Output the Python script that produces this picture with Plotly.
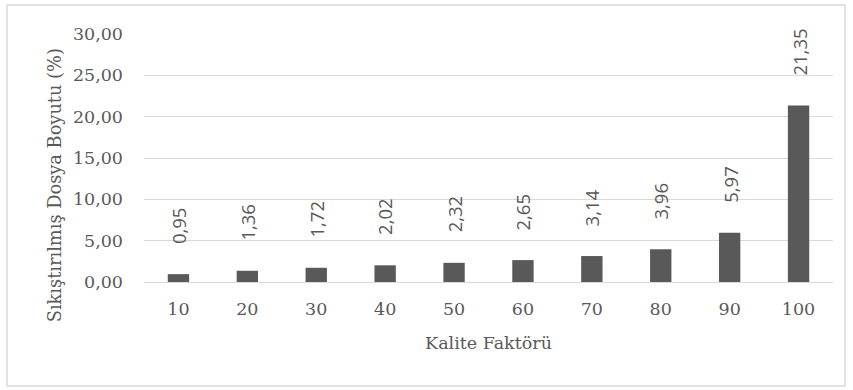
import plotly.graph_objects as go

# Kalite faktörüne göre sıkıştırılmış dosya boyutu (%)
kalite = ["10", "20", "30", "40", "50", "60", "70", "80", "90", "100"]
boyut = [0.95, 1.36, 1.72, 2.02, 2.32, 2.65, 3.14, 3.96, 5.97, 21.35]
y_ticks = [0, 5, 10, 15, 20, 25, 30]
y_tick_text = ["0,00", "5,00", "10,00", "15,00", "20,00", "25,00", "30,00"]

TEXT = "#595959"
GRID = "#d9d9d9"
SERIF = "DejaVu Serif"
SANS = "Open Sans"

pos = list(range(len(kalite)))

fig = go.Figure(
    go.Bar(
        x=pos,
        y=boyut,
        marker=dict(color="#595959", line=dict(width=0)),
        width=0.31,
        hoverinfo="skip",
    )
)

# Rotated value labels above each bar
for i, v in zip(pos, boyut):
    fig.add_annotation(
        x=i, y=v, xref="x", yref="y",
        text=f"{v:.2f}".replace(".", ","),
        textangle=-90, showarrow=False,
        yanchor="bottom", yshift=28,
        font=dict(family=SANS, size=18.5, color=TEXT),
    )

# Y-axis title, centred on the whole chart area
fig.add_annotation(
    x=-0.1306, y=0.39, xref="paper", yref="paper",
    text="Sıkıştırılmış Dosya Boyutu (%)",
    textangle=-90, showarrow=False,
    xanchor="center", yanchor="middle",
    font=dict(family=SERIF, size=17.8, color=TEXT),
)

fig.update_layout(
    width=853, height=390,
    margin=dict(l=144, r=20, t=34, b=108),
    paper_bgcolor="white", plot_bgcolor="white",
    showlegend=False,
    xaxis=dict(
        range=[-0.5, len(kalite) - 0.5],
        tickvals=pos, ticktext=kalite, tickangle=0,
        showgrid=False, showline=False, ticks="",
        ticklabelstandoff=14,
        tickfont=dict(family=SERIF, size=17.5, color=TEXT),
        title=dict(text="Kalite Faktörü", font=dict(family=SERIF, size=17.5, color=TEXT), standoff=19),
    ),
    yaxis=dict(
        range=[0, 30],
        tickvals=y_ticks, ticktext=y_tick_text,
        showgrid=True, gridcolor=GRID, gridwidth=1,
        zeroline=True, zerolinecolor=GRID, zerolinewidth=1,
        showline=False, ticks="",
        ticklabelstandoff=20,
        tickfont=dict(family=SERIF, size=17.5, color=TEXT),
    ),
    shapes=[
        dict(
            type="rect", xref="paper", yref="paper",
            x0=-0.1988, x1=1.0174, y0=-0.419, y1=1.117,
            line=dict(color=GRID, width=1.5), fillcolor="rgba(0,0,0,0)",
            layer="below",
        )
    ],
)

fig.write_html("out.html")
